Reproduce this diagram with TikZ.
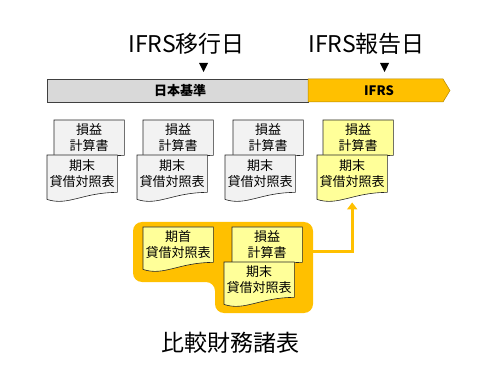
\documentclass[tikz,border=0pt]{standalone}
\usepackage{fontspec}
\setmainfont{Noto Sans CJK JP}
\usetikzlibrary{positioning,calc,backgrounds,arrows.meta}

\definecolor{gold}{HTML}{FFC000}
\definecolor{paleyellow}{HTML}{FFFF99}
\definecolor{palegray}{HTML}{F2F2F2}
\definecolor{bargray}{HTML}{D9D9D9}

% outline of a document sheet with a wavy lower edge
\newcommand{\docsheet}[2]{%
  \draw[sheetline, fill=#2] (#1.south east) -- (#1.north east) -- (#1.north west)
    -- ($(#1.south west)+(0,7)$) .. controls ($(#1.south west)+(21,14)$) and ($(#1.south east)+(-35,0)$) .. (#1.south east) -- cycle;}

\begin{document}
\begin{tikzpicture}[
    x=1pt, y=-1pt,
    sheet/.style={anchor=north west, minimum width=70pt, minimum height=35pt, inner sep=0pt, align=center, font=\fontsize{13pt}{16pt}\selectfont},
    sheetline/.style={draw=black!85, line width=0.6pt},
    title/.style={font=\fontsize{23pt}{26pt}\selectfont},
    barlabel/.style={font=\fontsize{13pt}{15pt}\selectfont\bfseries},
    goldline/.style={draw=gold, line width=3pt, -{Triangle[width=10pt,length=7pt]}}
]
    \useasboundingbox (0,0) rectangle (490,382);

    % dates
    \node [title] (trans) at (186.5,44) {IFRS移行日};
    \node [title] (report) at (366.5,44) {IFRS報告日};
    \fill (199,63) -- (208,63) -- (203.5,72) -- cycle;
    \fill (380,63) -- (389,63) -- (384.5,72) -- cycle;

    % time bar
    \draw [fill=bargray, draw=black!75, line width=0.6pt] (47,79) rectangle (308,102);
    \draw [fill=gold, draw=gold!70!black, line width=0.5pt] (308,79) -- (443,79) -- (450,90.5) -- (443,102) -- (308,102) -- cycle;
    \node [barlabel] (jgaap) at (180,90.5) {日本基準};
    \node [barlabel] (ifrs) at (379,90.5) {IFRS};

    % yearly statements
    \node [sheet] (pl1) at (54,120) {損益\\計算書};
    \node [sheet] (pl2) at (143,120) {損益\\計算書};
    \node [sheet] (pl3) at (233,120) {損益\\計算書};
    \node [sheet] (pl4) at (323,120) {損益\\計算書};
    \node [sheet, minimum height=37pt] (bs1) at (47,155) {期末\\貸借対照表};
    \node [sheet, minimum height=37pt] (bs2) at (137,155) {期末\\貸借対照表};
    \node [sheet, minimum height=37pt] (bs3) at (225,155) {期末\\貸借対照表};
    \node [sheet, minimum height=37pt] (bs4) at (317,155) {期末\\貸借対照表};

    % comparative statements
    \node [sheet] (open) at (143,227) {期首\\貸借対照表};
    \node [sheet] (cpl) at (232,227) {損益\\計算書};
    \node [sheet] (cbs) at (224,262) {期末\\貸借対照表};
    \node [title] (comp) at (230,343) {比較財務諸表};
    \coordinate (grp) at (313,252);

    \begin{pgfonlayer}{background}
        \fill [gold, rounded corners=9pt] (133,222) -- (313,222) -- (313,313) -- (215,313) -- (215,282) -- (133,282) -- cycle;
        \foreach \n in {pl1,pl2,pl3} {\docsheet{\n}{palegray}}
        \foreach \n in {bs1,bs2,bs3} {\docsheet{\n}{palegray}}
        \docsheet{pl4}{paleyellow}
        \docsheet{bs4}{paleyellow}
        \docsheet{open}{paleyellow}
        \docsheet{cpl}{paleyellow}
        \docsheet{cbs}{paleyellow}
    \end{pgfonlayer}

    \draw [goldline, shorten >=10pt] (grp) -| (bs4.south);
\end{tikzpicture}
\end{document}
